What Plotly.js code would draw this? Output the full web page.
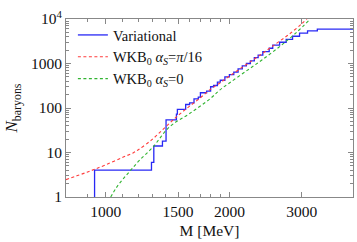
<!DOCTYPE html>
<html><head><meta charset="utf-8">
<script src="https://cdn.plot.ly/plotly-3.0.1.min.js"></script>
<style>body{margin:0;padding:0;background:#fff}#c{width:357px;height:242px}</style>
</head><body><div id="c"></div>
<script>
// Variational: cumulative number of baryon states (step function)
const varMass = [939, 939, 1292, 1309, 1374, 1402, 1486, 1494, 1565, 1600, 1640, 1680, 1700, 1760, 1800, 1830, 1870, 1900, 1950, 2000, 2050, 2100, 2150, 2200, 2250, 2300, 2350, 2412, 2500, 2550, 2650, 2750, 2850, 2964, 3100, 3275, 4000];
const varN    = [1, 4, 6, 14, 18, 54, 73, 93, 120, 130, 160, 175, 220, 240, 300, 320, 380, 420, 500, 560, 640, 760, 880, 1000, 1150, 1350, 1550, 1850, 2200, 2600, 3000, 3500, 4100, 4800, 5400, 5900, 5900];
// WKB_0 alpha_S = pi/16
const wkbPiMass = [800, 850, 900, 939, 1000, 1100, 1165, 1200, 1300, 1400, 1500, 1600, 1700, 1800, 1900, 2000, 2200, 2400, 2600, 2800, 3000, 3100];
const wkbPiN    = [2.45, 3.0, 3.6, 4.2, 5.3, 7.8, 9.8, 11.5, 20, 38, 68, 110, 170, 265, 370, 520, 950, 1650, 2800, 4600, 7800, 10500];
// WKB_0 alpha_S = 0
const wkb0Mass = [1028, 1060, 1100, 1150, 1210, 1300, 1431, 1600, 1800, 1894, 2000, 2200, 2400, 2651, 2900, 3150];
const wkb0N    = [1.0, 1.6, 2.5, 4.0, 6.8, 13, 38, 75, 165, 253, 365, 680, 1200, 2400, 4800, 10000];

const serif = 'Liberation Serif, Times New Roman, serif';
const traces = [
  {x: varMass, y: varN, mode: 'lines', line: {shape: 'hv', color: 'rgb(40,40,245)', width: 1.3}, name: 'Variational'},
  {x: wkbPiMass, y: wkbPiN, mode: 'lines', line: {shape: 'spline', color: 'rgb(255,60,60)', width: 1.1, dash: '3px,2.5px'}, name: 'WKB<sub>0</sub> <i>α<sub>S</sub></i>=<i>π</i>/16'},
  {x: wkb0Mass, y: wkb0N, mode: 'lines', line: {shape: 'spline', color: 'rgb(50,180,50)', width: 1.1, dash: '3px,2.5px'}, name: 'WKB<sub>0</sub> <i>α<sub>S</sub></i>=0'}
];
const yMinor = [];
[1, 10, 100, 1000].forEach(d => { for (let k = 2; k <= 9; k++) yMinor.push(k * d); });
const layout = {
  width: 357, height: 242,
  margin: {l: 66, r: 4, t: 19, b: 45},
  paper_bgcolor: '#fff', plot_bgcolor: '#fff',
  font: {family: serif, size: 15, color: '#111'},
  showlegend: true,
  legend: {x: 0.024, y: 1.0, xanchor: 'left', yanchor: 'top', bgcolor: 'rgba(0,0,0,0)', font: {family: serif, size: 14.5, color: '#111'}, tracegroupgap: 0, itemwidth: 30},
  xaxis: {
    type: 'log', range: [Math.log10(800), Math.log10(4000)],
    tickmode: 'array', tickvals: [1000, 1500, 2000, 3000], ticktext: ['1000', '1500', '2000', '3000'],
    ticks: 'inside', ticklen: 5, tickcolor: '#888', mirror: 'ticks', showline: true, linecolor: '#888', linewidth: 1,
    showgrid: false, zeroline: false,
    minor: {tickmode: 'array', tickvals: [900, 1100, 1200, 1300, 1400, 1600, 1700, 1800, 1900], ticks: 'inside', ticklen: 3, tickcolor: '#888', showgrid: false},
    tickfont: {family: serif, size: 15.5, color: '#111'},
    title: {text: 'M [MeV]', font: {family: serif, size: 15.5, color: '#111'}, standoff: 6}
  },
  yaxis: {
    type: 'log', range: [0, 4],
    tickmode: 'array', tickvals: [1, 10, 100, 1000, 10000], ticktext: ['1', '10', '100', '1000', '10<sup>4</sup>'],
    ticks: 'inside', ticklen: 5, tickcolor: '#888', mirror: 'ticks', showline: true, linecolor: '#888', linewidth: 1,
    showgrid: false, zeroline: false,
    minor: {tickmode: 'array', tickvals: yMinor, ticks: 'inside', ticklen: 3, tickcolor: '#888', showgrid: false},
    tickfont: {family: serif, size: 15.5, color: '#111'},
    title: {text: '<i>N</i><sub>baryons</sub>', font: {family: serif, size: 17, color: '#111'}, standoff: 8}
  }
};
Plotly.newPlot('c', traces, layout, {staticPlot: true, displayModeBar: false});
</script></body></html>
